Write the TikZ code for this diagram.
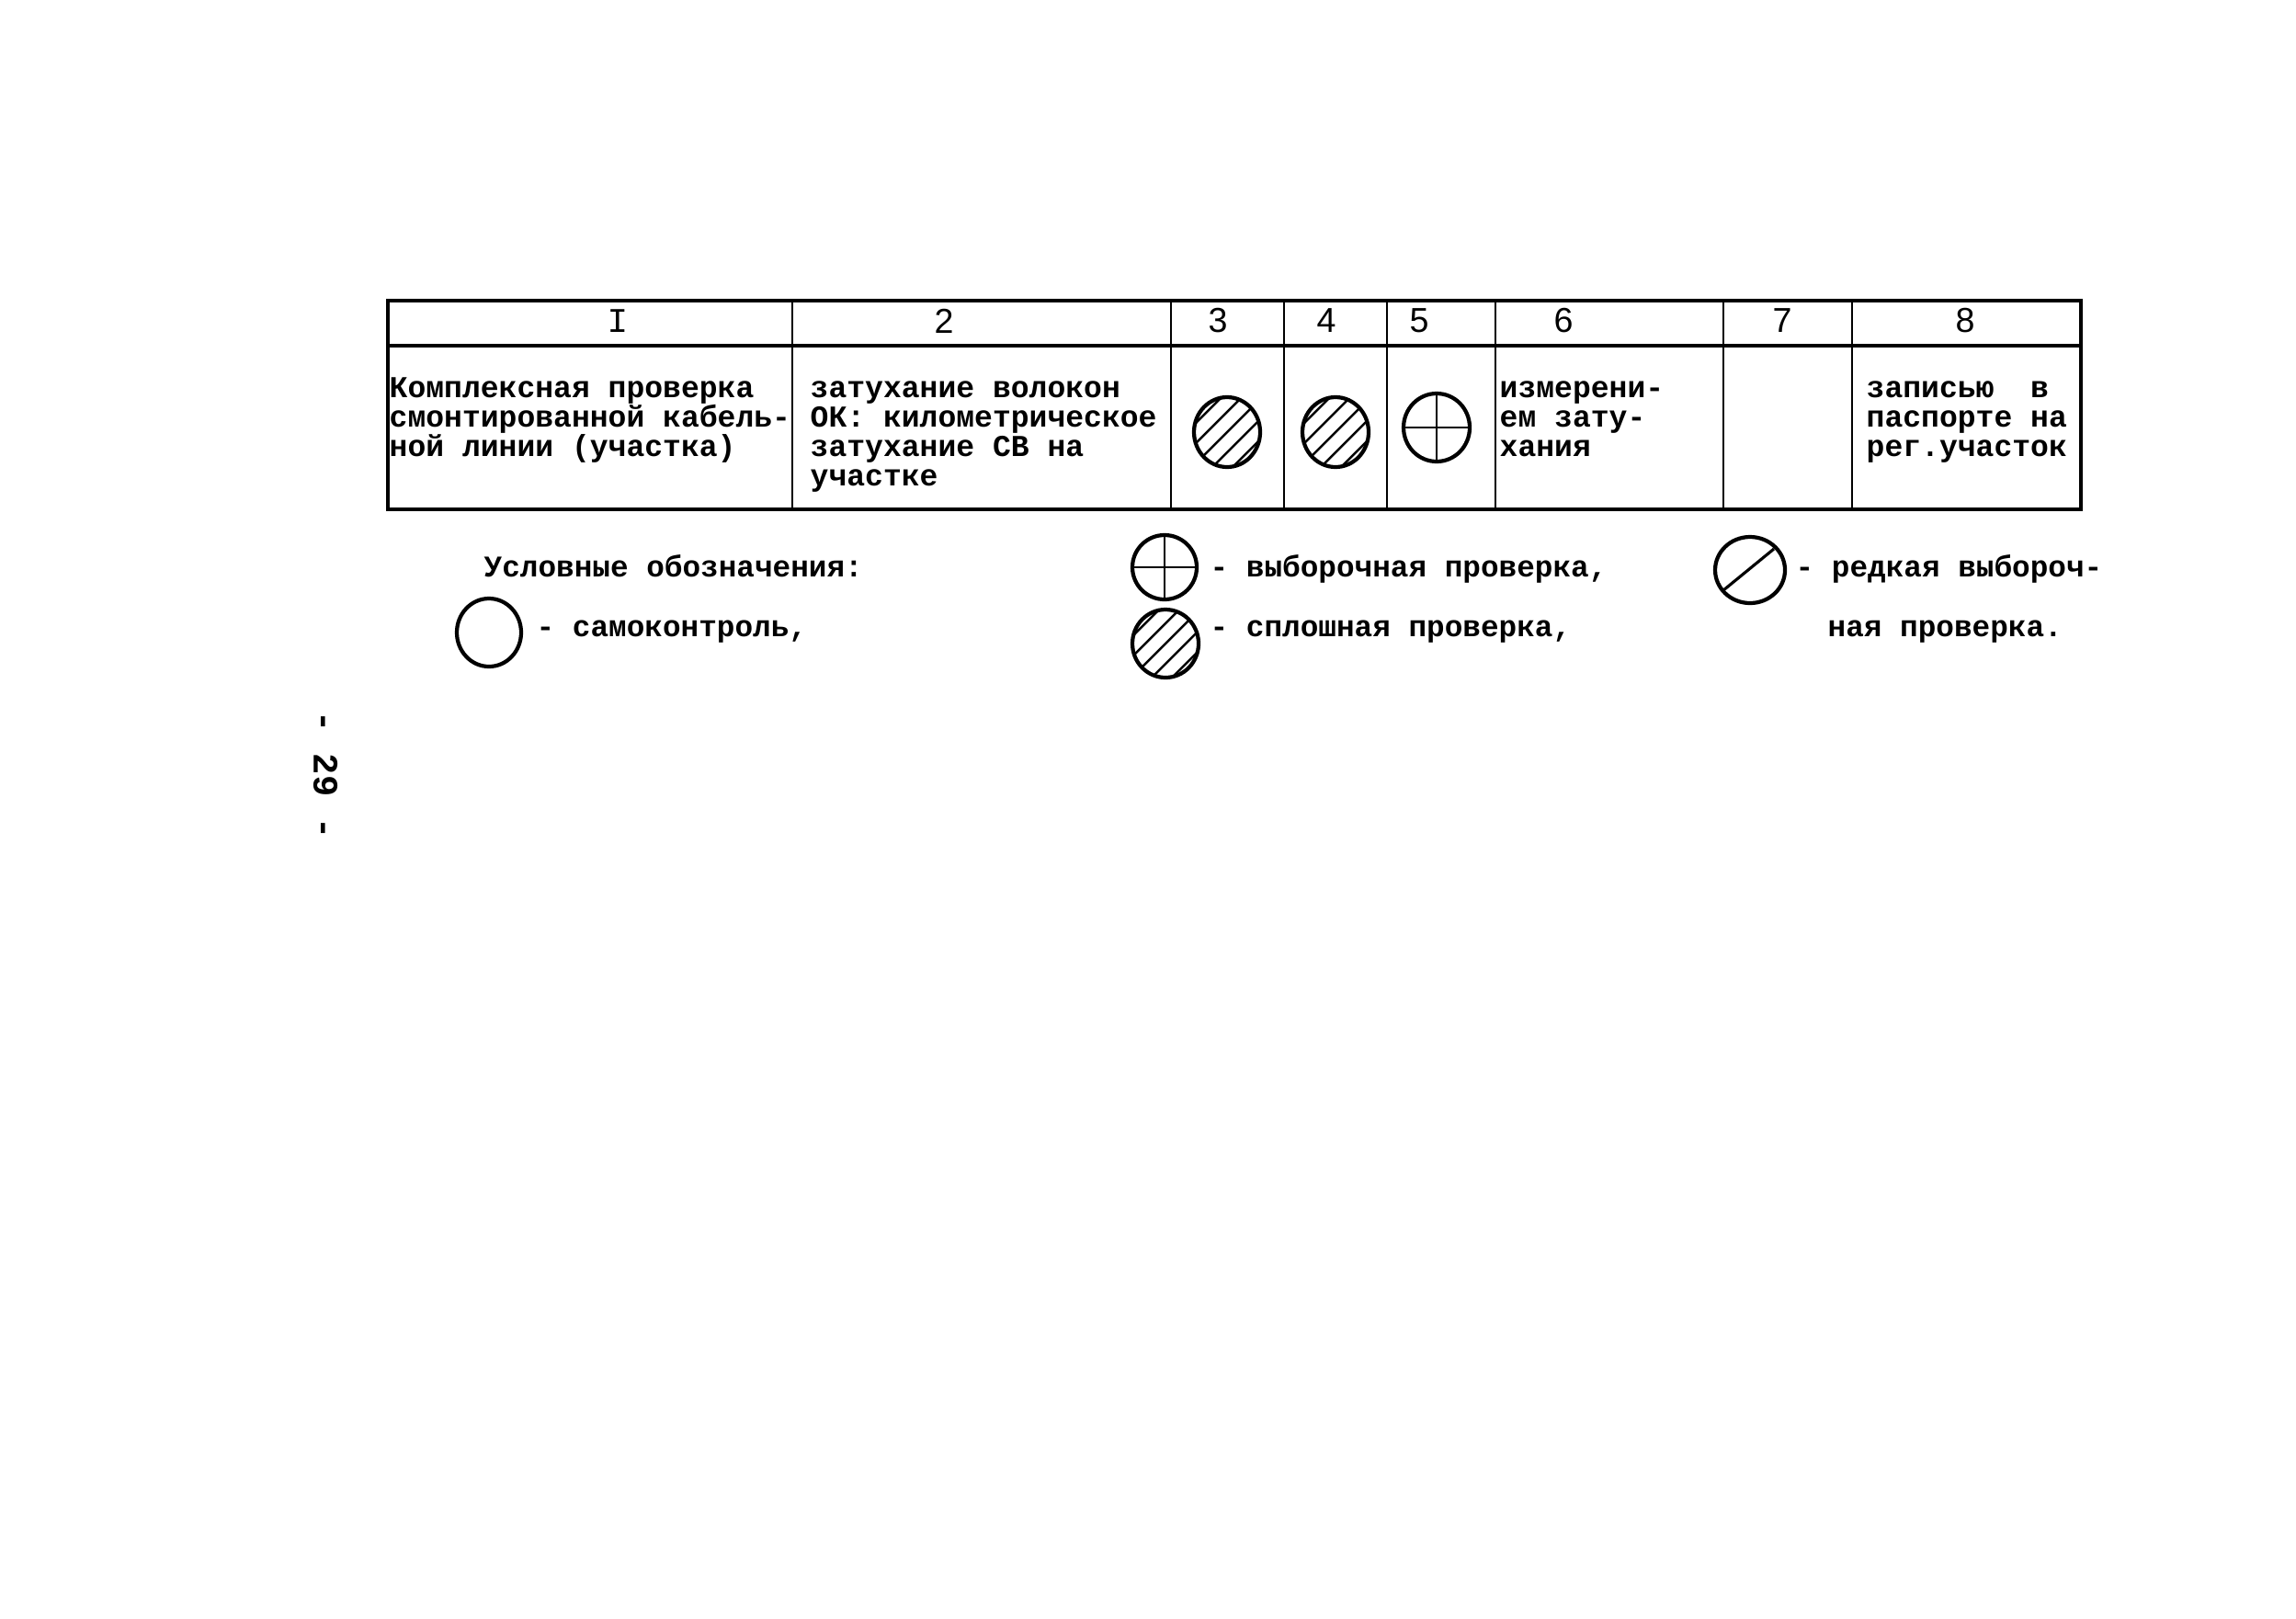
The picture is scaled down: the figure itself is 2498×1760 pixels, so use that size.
\documentclass[tikz,border=0pt]{standalone}
\usepackage{fontspec}
\newfontfamily\typefont{Liberation Mono}
\newfontfamily\numfont{Liberation Sans}
\usetikzlibrary{positioning}

\tikzset{
  tabtext/.style={font=\typefont\bfseries\fontsize{9.4}{9.07}\selectfont, align=left, anchor=base west, inner sep=0pt},
  legtext/.style={font=\typefont\bfseries\fontsize{9.3}{9.07}\selectfont, anchor=base west, inner sep=0pt},
  headnum/.style={font=\numfont\fontsize{10.7}{12}\selectfont, inner sep=0pt},
  signline/.style={line width=1.2pt},
  hatchline/.style={line width=0.7pt}
}

% symbols of the legend
\newcommand\hatchsign[4]{%
  \draw [signline] (#1,#2) ellipse [x radius=#3, y radius=#4];
  \begin{scope}
    \clip (#1,#2) ellipse [x radius=#3, y radius=#4];
    \foreach \k in {-88,-66,...,88}
    {
      \draw [hatchline] (#1+\k-60, #2+60)--(#1+\k+60, #2-60);
    }
  \end{scope}}
\newcommand\crosssign[4]{%
  \draw [signline] (#1,#2) ellipse [x radius=#3, y radius=#4];
  \draw [line width=0.7pt] (#1-#3,#2)--(#1+#3,#2) (#1,#2-#4)--(#1,#2+#4);}

\begin{document}
\begin{tikzpicture}[x=0.01cm, y=-0.01cm]
\useasboundingbox (0,0) rectangle (2498,1760);

% table
\draw [line width=1.2pt](422,327) rectangle (2264,554);
\draw [line width=1.3pt](422,376)--(2264,376);
\foreach \x in {862,1274,1397,1509,1627,1875,2015}
{
  \draw [line width=0.7pt](\x, 327)--(\x, 554);
}

\node [headnum] (h1) at (672,349) {\typefont I};
\node [headnum] (h2) at (1027,349) {2};
\node [headnum] (h3) at (1325,349) {3};
\node [headnum] (h4) at (1443,349) {4};
\node [headnum] (h5) at (1544,349) {5};
\node [headnum] (h6) at (1701,349) {6};
\node [headnum] (h7) at (1939,349) {7};
\node [headnum] (h8) at (2138,349) {8};

% base = last line of each cell
\node [tabtext] (work) at (423,496) {Комплексная проверка\\смонтированной кабель-\\ной линии (участка)};
\node [tabtext] (param) at (881,528) {затухание волокон\\ОК: километрическое\\затухание СВ на\\участке};
\node [tabtext] (method) at (1631,496) {измерени-\\ем зату-\\хания};
\node [tabtext] (record) at (2030,496) {записью\ \ в\\паспорте на\\рег.участок};

\hatchsign{1335}{470}{36}{38}
\hatchsign{1453}{470}{36}{38}
\crosssign{1563}{465}{36}{37}

% legend
\node [legtext] (legend) at (526,627) {Условные обозначения:};
\draw [signline] (532,688) ellipse [x radius=35, y radius=37];
\node [legtext] (self) at (583,692) {- самоконтроль,};

\crosssign{1267}{617}{35}{35}
\node [legtext] (sample) at (1316,627) {- выборочная проверка,};
\hatchsign{1268}{700}{36}{37}
\node [legtext] (full) at (1316,692) {- сплошная проверка,};

\draw [signline] (1904,620) ellipse [x radius=38, y radius=36];
\draw [line width=0.9pt] (1875,642)--(1930,597);
\node [legtext] (rare) at (1953,627) {- редкая выбороч-};
\node [legtext] (rare2) at (1988,692) {ная проверка.};

% page number
\node [font=\typefont\bfseries\fontsize{11}{12}\selectfont, rotate=-90, inner sep=0pt] (page) at (354,843) {- 29 -};
\end{tikzpicture}
\end{document}
